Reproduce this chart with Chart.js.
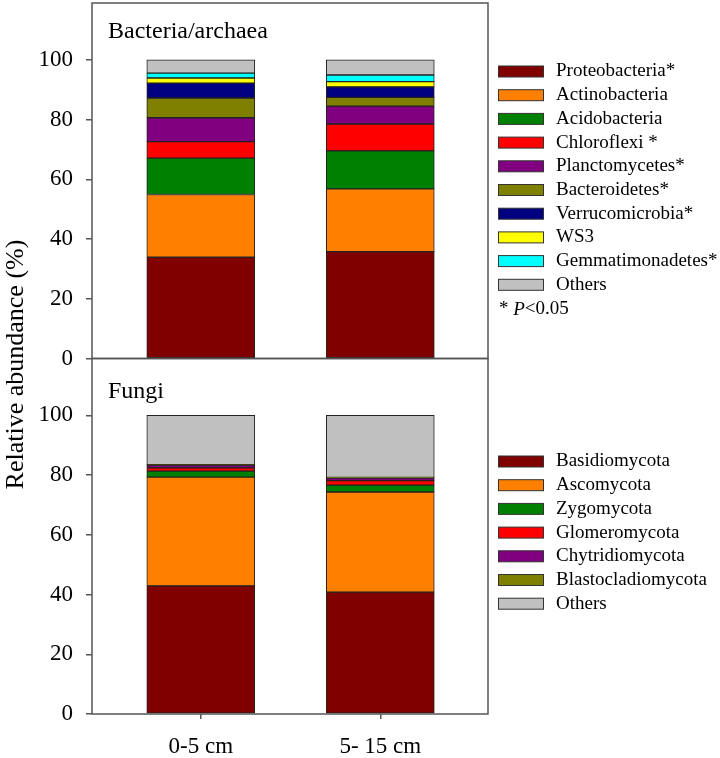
<!DOCTYPE html>
<html>
<head>
<meta charset="utf-8">
<script src="https://cdn.jsdelivr.net/npm/chart.js@4.4.1/dist/chart.umd.min.js"></script>
<style>
  html, body { margin: 0; padding: 0; background: #fff; }
  #wrap { width: 720px; height: 758px; }
</style>
</head>
<body>
<div id="wrap"><canvas id="abundanceChart" width="720" height="758"></canvas></div>
<script>
// depth classes (x axis)
var depths = ['0-5 cm', '5- 15 cm'];
var yTicks = [0, 20, 40, 60, 80, 100];

// Bacteria/archaea, relative abundance (%) for [0-5 cm, 5-15 cm]
var bacNames = ['Proteobacteria*', 'Actinobacteria', 'Acidobacteria', 'Chloroflexi *', 'Planctomycetes*',
  'Bacteroidetes*', 'Verrucomicrobia*', 'WS3', 'Gemmatimonadetes*', 'Others'];
var proteobacteria   = [33.9, 35.8];
var actinobacteria   = [21.0, 21.0];
var acidobacteria    = [12.2, 12.7];
var chloroflexi      = [5.5, 9.0];
var planctomycetes   = [8.0, 6.0];
var bacteroidetes    = [6.6, 2.9];
var verrucomicrobia  = [5.0, 3.5];
var ws3              = [1.7, 1.8];
var gemmatimonadetes = [1.6, 2.2];
var bacOthers        = [4.5, 5.1];
var bacValues = [proteobacteria, actinobacteria, acidobacteria, chloroflexi, planctomycetes,
  bacteroidetes, verrucomicrobia, ws3, gemmatimonadetes, bacOthers];
var bacColors = ['#800000', '#ff8000', '#008000', '#ff0000', '#800080',
  '#808000', '#000080', '#ffff00', '#00ffff', '#c0c0c0'];

// Fungi
var fungNames = ['Basidiomycota', 'Ascomycota', 'Zygomycota', 'Glomeromycota', 'Chytridiomycota',
  'Blastocladiomycota', 'Others'];
var basidiomycota      = [42.9, 40.8];
var ascomycota         = [36.4, 33.5];
var zygomycota         = [2.0, 2.3];
var glomeromycota      = [1.1, 1.5];
var chytridiomycota    = [0.9, 0.9];
var blastocladiomycota = [0.2, 0.2];
var fungOthers         = [16.5, 20.8];
var fungValues = [basidiomycota, ascomycota, zygomycota, glomeromycota, chytridiomycota,
  blastocladiomycota, fungOthers];
var fungColors = ['#800000', '#ff8000', '#008000', '#ff0000', '#800080', '#808000', '#c0c0c0'];

var SERIF = '"Liberation Serif", "Times New Roman", serif';
var frameColor = '#555';

function makeSets(names, values, colors, axis) {
  return names.map(function (n, i) {
    return {
      label: n,
      group: axis,
      data: values[i].map(function (v, j) { return { x: j + 1, y: v }; }),
      backgroundColor: colors[i],
      borderColor: '#222',
      borderWidth: 1,
      borderSkipped: false,
      barThickness: 108,
      yAxisID: axis,
      stack: 's'
    };
  });
}

var datasets = makeSets(bacNames, bacValues, bacColors, 'yTop')
  .concat(makeSets(fungNames, fungValues, fungColors, 'yBot'));

function yAxis(weight) {
  return {
    type: 'linear',
    position: 'left',
    stack: 'panels',
    stackWeight: 1,
    weight: weight,
    stacked: true,
    min: 0,
    max: 119,
    afterBuildTicks: function (s) { s.ticks = yTicks.map(function (v) { return { value: v }; }); },
    afterFit: function (s) { s.width = 92; s.paddingTop = 0; s.paddingBottom = 0; },
    border: { display: false },
    grid: { drawOnChartArea: false, tickLength: 6, color: frameColor, lineWidth: 1.5 },
    ticks: { color: '#000', padding: 13, font: { family: SERIF, size: 23 } }
  };
}

// frame, panel titles, y title and the two legends
var decor = {
  id: 'decor',
  afterDraw: function (chart) {
    var c = chart.ctx, a = chart.chartArea;
    var mid = chart.scales.yTop.bottom;
    c.save();
    c.strokeStyle = frameColor;
    c.lineWidth = 1.5;
    c.strokeRect(a.left, a.top, a.right - a.left, mid - a.top);
    c.strokeRect(a.left, mid, a.right - a.left, a.bottom - mid);

    c.fillStyle = '#000';
    c.font = '24px ' + SERIF;
    c.textBaseline = 'alphabetic';
    c.textAlign = 'left';
    c.fillText('Bacteria/archaea', a.left + 16, a.top + 35);
    c.fillText('Fungi', a.left + 16, mid + 39);

    c.save();
    c.font = '26px ' + SERIF;
    c.translate(16, (a.top + a.bottom) / 2 + 6);
    c.rotate(-Math.PI / 2);
    c.textAlign = 'center';
    c.textBaseline = 'middle';
    c.fillText('Relative abundance (%)', 0, 0);
    c.restore();

    c.font = '19px ' + SERIF;
    c.textBaseline = 'middle';
    function legend(group, y0) {
      chart.data.datasets.forEach(function (d) {
        if (d.group !== group) return;
        c.fillStyle = d.backgroundColor;
        c.fillRect(498, y0 - 5.5, 45, 11);
        c.strokeStyle = '#333';
        c.lineWidth = 1;
        c.strokeRect(498.5, y0 - 5.5, 45, 11);
        c.fillStyle = '#000';
        c.fillText(d.label, 556, y0);
        y0 += 23.7;
      });
      return y0;
    }
    var yEnd = legend('yTop', a.top + 68.5);
    c.fillStyle = '#000';
    c.fillText('* ', 499, yEnd + 1);
    var w = c.measureText('* ').width;
    c.font = 'italic 19px ' + SERIF;
    c.fillText('P', 499 + w, yEnd + 1);
    var w2 = c.measureText('P').width;
    c.font = '19px ' + SERIF;
    c.fillText('<0.05', 499 + w + w2, yEnd + 1);

    legend('yBot', mid + 103);
    c.restore();
  }
};

var ctx = document.getElementById('abundanceChart').getContext('2d');
var chart = new Chart(ctx, {
  type: 'bar',
  data: { datasets: datasets },
  options: {
    responsive: false,
    animation: false,
    layout: { padding: { top: 3, right: 232, left: 0, bottom: 0 } },
    plugins: { legend: { display: false }, tooltip: { enabled: false } },
    scales: {
      x: {
        type: 'linear',
        stacked: true,
        offset: false,
        min: 0.394,
        max: 2.6,
        afterBuildTicks: function (s) { s.ticks = depths.map(function (d, i) { return { value: i + 1 }; }); },
        afterFit: function (s) { s.height = 44; s.paddingLeft = 0; s.paddingRight = 0; },
        border: { display: false },
        grid: { offset: false, drawOnChartArea: false, tickLength: 5, color: frameColor, lineWidth: 1.5 },
        ticks: {
          color: '#000',
          padding: 14,
          maxRotation: 0,
          font: { family: SERIF, size: 23 },
          callback: function (v) { return depths[v - 1]; }
        }
      },
      yBot: yAxis(0),
      yTop: yAxis(1)
    }
  },
  plugins: [decor]
});
</script>
</body>
</html>
